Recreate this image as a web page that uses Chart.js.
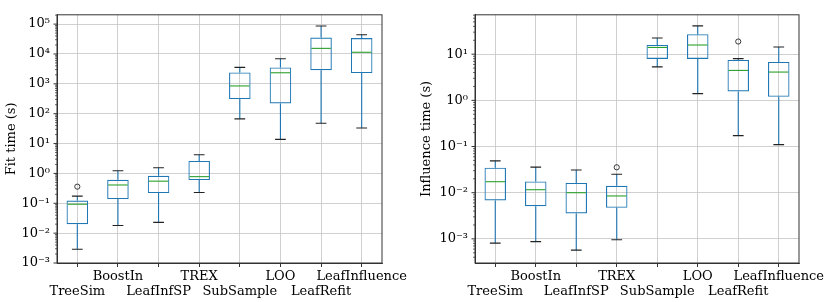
<!DOCTYPE html>
<html>
<head>
<meta charset="utf-8">
<script src="https://cdn.jsdelivr.net/npm/chart.js@4"></script>
<style>
  body { margin: 0; background: #fff; }
  #wrap { position: relative; width: 831px; height: 302px; }
  .box { position: absolute; top: 0; height: 302px; }
</style>
</head>
<body>
<div id="wrap">
  <div class="box" style="left:0; width:415px;"><canvas id="fitChart"></canvas></div>
  <div class="box" style="left:415px; width:416px;"><canvas id="inflChart"></canvas></div>
</div>
<script>
// categories
const methods = ['TreeSim', 'BoostIn', 'LeafInfSP', 'TREX', 'SubSample', 'LOO', 'LeafRefit', 'LeafInfluence'];

// fit time (s)
const fitWhiskerLow = [0.0029, 0.018, 0.023, 0.23, 67, 13.8, 48, 33];
const fitQ1 = [0.020, 0.138, 0.22, 0.60, 310, 220, 2870, 2300];
const fitMedian = [0.093, 0.41, 0.55, 0.78, 850, 2350, 15400, 11400];
const fitQ3 = [0.123, 0.61, 0.83, 2.6, 2400, 3550, 35500, 34000];
const fitWhiskerHigh = [0.174, 1.23, 1.55, 4.2, 3550, 6900, 86000, 44000];
const fitOutliers = [0.36, null, null, null, null, null, null, null];

// influence time (s)
const inflWhiskerLow = [0.00081, 0.00087, 0.00057, 0.00096, 5.3, 1.4, 0.172, 0.11];
const inflQ1 = [0.0068, 0.0051, 0.00355, 0.0047, 7.9, 7.9, 1.56, 1.19];
const inflMedian = [0.0173, 0.0116, 0.0100, 0.0085, 14, 15.8, 4.45, 4.1];
const inflQ3 = [0.0348, 0.0175, 0.0162, 0.0141, 15.8, 27, 7.5, 6.8];
const inflWhiskerHigh = [0.049, 0.0358, 0.031, 0.025, 22.5, 41, 8.0, 14.3];
const inflOutliers = [null, null, null, 0.0355, null, null, 18.8, null];

// axis ranges
const fitRange = [1e-3, 2.05e5];
const inflRange = [3.3e-4, 71.3];

const SUP = { '0': '⁰', '1': '¹', '2': '²', '3': '³', '4': '⁴', '5': '⁵', '6': '⁶', '7': '⁷', '8': '⁸', '9': '⁹', '-': '⁻' };
function powLabel(v) {
  const e = Math.round(Math.log10(v));
  return '10' + String(e).split('').map(c => SUP[c]).join('');
}
function isDecade(v) {
  const l = Math.log10(v);
  return Math.abs(l - Math.round(l)) < 1e-6;
}

// two-row labels like the original
const xLabels = methods.map((m, i) => i % 2 === 0 ? ['', m] : [m]);

const FONT = "'DejaVu Serif', serif";
const BLUE = '#1f77b4';
const GREEN = '#2ca02c';

// whiskers, caps, medians, frame and minor ticks
const boxPlugin = {
  id: 'boxExtras',
  afterDatasetsDraw(chart) {
    const s = chart.options.plugins.boxExtras;
    const x = chart.scales.x, y = chart.scales.y;
    const bars = chart.getDatasetMeta(0).data;
    const ctx = chart.ctx;
    ctx.save();
    for (let i = 0; i < s.median.length; i++) {
      const cx = x.getPixelForValue(i);
      const w = bars[i].width;
      const q1 = y.getPixelForValue(s.q1[i]);
      const q3 = y.getPixelForValue(s.q3[i]);
      const lo = y.getPixelForValue(s.low[i]);
      const hi = y.getPixelForValue(s.high[i]);
      const md = y.getPixelForValue(s.median[i]);
      ctx.lineWidth = 1.1;
      ctx.strokeStyle = BLUE;
      ctx.beginPath();
      ctx.moveTo(cx, q1); ctx.lineTo(cx, lo);
      ctx.moveTo(cx, q3); ctx.lineTo(cx, hi);
      ctx.stroke();
      ctx.strokeStyle = '#222';
      ctx.beginPath();
      ctx.moveTo(cx - w / 4, lo); ctx.lineTo(cx + w / 4, lo);
      ctx.moveTo(cx - w / 4, hi); ctx.lineTo(cx + w / 4, hi);
      ctx.stroke();
      ctx.strokeStyle = GREEN;
      ctx.beginPath();
      ctx.moveTo(cx - w / 2 + 1, md); ctx.lineTo(cx + w / 2 - 1, md);
      ctx.stroke();
    }
    // minor / major ticks on y
    const a = chart.chartArea;
    ctx.strokeStyle = '#000';
    y.ticks.forEach(t => {
      const py = y.getPixelForValue(t.value);
      const len = isDecade(t.value) ? 3.5 : 2;
      ctx.lineWidth = isDecade(t.value) ? 0.8 : 0.6;
      ctx.beginPath();
      ctx.moveTo(a.left - len, py); ctx.lineTo(a.left, py);
      ctx.stroke();
    });
    // frame
    ctx.lineWidth = 1;
    ctx.strokeStyle = '#333';
    ctx.strokeRect(a.left, a.top, a.right - a.left, a.bottom - a.top);
    ctx.restore();
  }
};

function makeChart(id, title, range, low, q1, med, q3, high, outliers, yWidth, padRight) {
  const ctx = document.getElementById(id).getContext('2d');
  return new Chart(ctx, {
    type: 'bar',
    data: {
      labels: xLabels,
      datasets: [{
        data: methods.map((m, i) => [q1[i], q3[i]]),
        backgroundColor: 'rgba(0,0,0,0)',
        borderColor: BLUE,
        borderWidth: 1.1,
        borderSkipped: false,
        barPercentage: 0.53,
        categoryPercentage: 1
      }, {
        type: 'line',
        data: outliers,
        showLine: false,
        pointStyle: 'circle',
        pointRadius: 2.6,
        pointBorderWidth: 0.9,
        pointBorderColor: '#222',
        pointBackgroundColor: 'rgba(0,0,0,0)'
      }]
    },
    options: {
      responsive: false,
      animation: false,
      layout: { padding: { top: 5, right: padRight, left: 0, bottom: 0 } },
      plugins: {
        legend: { display: false },
        tooltip: { enabled: false },
        boxExtras: { low: low, q1: q1, median: med, q3: q3, high: high }
      },
      scales: {
        x: {
          offset: true,
          afterFit: s => { s.height = 39; },
          grid: { offset: false, color: '#c4c4c4', lineWidth: 0.8, tickColor: '#000', tickLength: 4 },
          border: { color: '#333' },
          ticks: {
            autoSkip: false, maxRotation: 0, minRotation: 0, padding: 2,
            color: '#000', font: { family: FONT, size: 13, lineHeight: 1.15 }
          }
        },
        y: {
          type: 'logarithmic',
          min: range[0],
          max: range[1],
          afterFit: s => { s.width = yWidth; },
          afterBuildTicks: s => {
            const t = [];
            for (let e = Math.floor(Math.log10(range[0])); e <= Math.ceil(Math.log10(range[1])); e++) {
              for (let m = 1; m <= 9; m++) {
                const v = m * Math.pow(10, e);
                if (v >= range[0] && v <= range[1]) t.push({ value: v, major: m === 1 });
              }
            }
            s.ticks = t;
          },
          grid: {
            drawTicks: false, lineWidth: 0.8,
            color: c => (c.tick && isDecade(c.tick.value)) ? '#c4c4c4' : 'rgba(0,0,0,0)'
          },
          border: { color: '#333' },
          ticks: {
            autoSkip: false, padding: 7, color: '#000',
            font: { family: FONT, size: 13 },
            callback: v => isDecade(v) ? powLabel(v) : ''
          },
          title: {
            display: true, text: title, color: '#000',
            font: { family: FONT, size: 13 }, padding: { top: 4, bottom: 0 }
          }
        }
      }
    },
    plugins: [boxPlugin]
  });
}

document.getElementById('fitChart').width = 415;
document.getElementById('fitChart').height = 302;
document.getElementById('inflChart').width = 416;
document.getElementById('inflChart').height = 302;

makeChart('fitChart', 'Fit time (s)', fitRange, fitWhiskerLow, fitQ1, fitMedian, fitQ3, fitWhiskerHigh, fitOutliers, 57, 33);
makeChart('inflChart', 'Influence time (s)', inflRange, inflWhiskerLow, inflQ1, inflMedian, inflQ3, inflWhiskerHigh, inflOutliers, 60, 32);
</script>
</body>
</html>
